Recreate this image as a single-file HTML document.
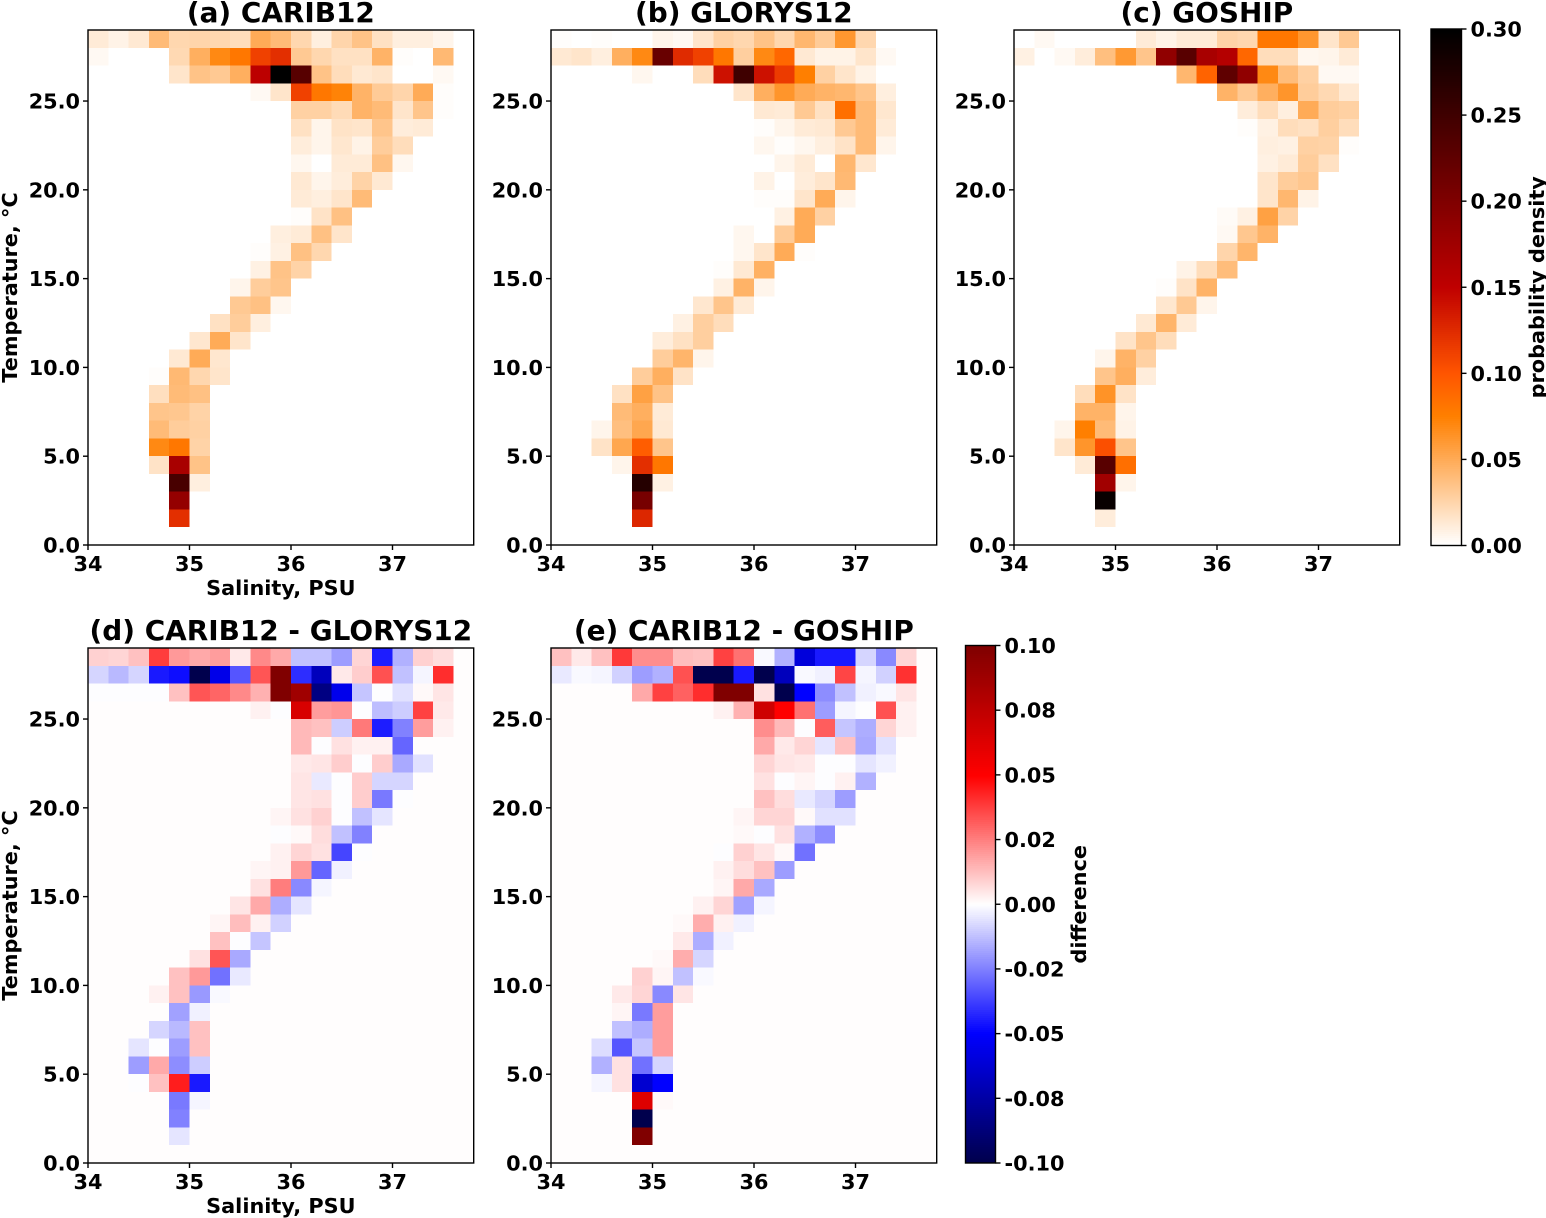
<!DOCTYPE html>
<html lang="en">
<head>
<meta charset="utf-8">
<title>Temperature-salinity probability density</title>
<style>
html,body{margin:0;padding:0;background:#fff;width:1546px;height:1218px;overflow:hidden}
svg{display:block}
text{font-family:"DejaVu Sans","Liberation Sans",sans-serif;font-weight:bold;fill:#000}
</style>
</head>
<body>
<svg id="figure" xmlns="http://www.w3.org/2000/svg" width="1546" height="1218" viewBox="0 0 1546 1218"></svg>
<script>
// Rows run from the top temperature bin (28-29 C) down to the bottom bin (0-1 C).
const temperatureBins = [28,27,26,25,24,23,22,21,20,19,18,17,16,15,14,13,12,11,10,9,8,7,6,5,4,3,2,1,0];
const salinityBins = [34,34.2,34.4,34.6,34.8,35,35.2,35.4,35.6,35.8,36,36.2,36.4,36.6,36.8,37,37.2,37.4,37.6];
const salinityTicks = [34,35,36,37];
const temperatureTicks = [0,5,10,15,20,25];
const temperatureTickLabels = ["0.0","5.0","10.0","15.0","20.0","25.0"];
const densityTicks = [0,0.05,0.1,0.15,0.2,0.25,0.3];
const densityTickLabels = ["0.00","0.05","0.10","0.15","0.20","0.25","0.30"];
const differenceTicks = [-0.1,-0.075,-0.05,-0.025,0,0.025,0.05,0.075,0.1];
const differenceTickLabels = ["-0.10","-0.08","-0.05","-0.02","0.00","0.02","0.05","0.08","0.10"];

const carib12 = [
[.012,.008,.014,.04,.024,.025,.024,.02,.05,.04,.024,.01,.025,.036,.018,.01,.01,.006],
[.004,0,.001,0,.023,.047,.07,.08,.112,.122,.032,.024,.018,.018,.045,.002,.001,.042],
[0,0,0,0,.016,.036,.032,.047,.153,.3,.231,.036,.02,.014,.016,0,.001,.004],
[0,0,0,0,0,0,0,0,.004,.016,.112,.08,.073,.045,.031,.025,.05,.002],
[0,0,0,0,0,0,0,0,0,0,.028,.027,.022,.045,.04,.016,.034,.002],
[0,0,0,0,0,0,0,0,0,0,.018,.006,.017,.016,.034,.011,.012],
[0,0,0,0,0,0,0,0,0,0,.011,.006,.015,.008,.03,.02],
[0,0,0,0,0,0,0,0,0,0,.005,.001,.012,.012,.037,.005],
[0,0,0,0,0,0,0,0,0,0,.014,.007,.011,.026,.014],
[0,0,0,0,0,0,0,0,0,.001,.012,.01,.016,.04],
[0,0,0,0,0,0,0,0,0,.001,.002,.017,.037,.001],
[0,0,0,0,0,0,0,0,0,.01,.012,.037,.016],
[0,0,0,0,0,0,0,0,.002,.009,.037,.024],
[0,0,0,0,0,0,0,0,.009,.036,.026],
[0,0,0,0,0,0,0,.006,.03,.034],
[0,0,0,0,0,0,.001,.032,.037,.005],
[0,0,0,0,0,0,.018,.03,.01],
[0,0,0,0,0,.015,.05,.016],
[0,0,0,0,.014,.05,.015],
[0,0,0,.002,.042,.024,.016],
[0,0,0,.019,.04,.037],
[0,0,0,.035,.033,.026],
[0,0,0,.04,.03,.028],
[0,0,0,.07,.08,.026],
[0,0,0,.017,.168,.036],
[0,0,0,0,.243,.01],
[0,0,0,0,.183],
[0,0,0,0,.122],
[]
];
const glorys12 = [
[.002,0,.002,.001,.001,.006,.004,.016,.027,.024,.036,.024,.043,.031,.062,.024],
[.014,.016,.01,.047,.07,.218,.125,.112,.08,.029,.07,.09,.013,.008,.008,.016,.004],
[0,0,0,0,.005,.001,.001,.021,.14,.25,.14,.115,.075,.028,.016,.008,.001],
[0,0,0,0,0,0,0,0,0,.016,.047,.063,.05,.045,.043,.034,.01],
[0,0,0,0,0,0,0,0,0,0,.013,.012,.032,.018,.085,.04,.015],
[0,0,0,0,0,0,0,0,0,0,.002,.006,.012,.014,.032,.04,.012],
[0,0,0,0,0,0,0,0,0,0,.005,.002,.005,.01,.017,.04,.006],
[0,0,0,0,0,0,0,0,0,0,0,.006,.012,.001,.043,.015],
[0,0,0,0,0,0,0,0,0,0,.008,.001,.011,.016,.042],
[0,0,0,0,0,0,0,0,0,0,.002,.002,.016,.05,.006],
[0,0,0,0,0,0,0,0,0,0,0,.009,.05,.027],
[0,0,0,0,0,0,0,0,0,.005,.001,.031,.05],
[0,0,0,0,0,0,0,0,0,.005,.016,.05,.002],
[0,0,0,0,0,0,0,0,.002,.013,.046,.001],
[0,0,0,0,0,0,0,0,.009,.045,.006],
[0,0,0,0,0,0,0,.015,.034,.012],
[0,0,0,0,0,0,.009,.029,.02],
[0,0,0,0,0,.011,.018,.029],
[0,0,0,0,.001,.03,.044,.006],
[0,0,0,0,.03,.047,.017],
[0,0,0,.018,.056,.036],
[0,0,0,.04,.048,.012],
[0,0,.006,.038,.052,.014],
[0,0,.017,.052,.096,.035],
[0,0,0,.007,.122,.08],
[0,0,0,0,.27,.009],
[0,0,0,0,.207],
[0,0,0,0,.127],
[]
];
const goship = [
[0,.004,.001,.001,0,.001,.012,.008,.012,.012,.026,.024,.08,.08,.062,.016,.032],
[.009,.001,.004,.011,.038,.06,.034,.187,.23,.168,.159,.09,.02,.021,.005,.006,.012],
[0,0,0,0,0,0,0,0,.043,.092,.225,.187,.07,.039,.028,.004,.004],
[0,0,0,0,0,0,0,0,0,0,.045,.032,.047,.063,.03,.023,.014],
[0,0,0,0,0,0,0,0,0,0,0,.011,.02,.01,.05,.03,.027],
[0,0,0,0,0,0,0,0,0,0,0,.002,.009,.021,.018,.029,.02],
[0,0,0,0,0,0,0,0,0,0,0,.001,.01,.009,.027,.026,.002],
[0,0,0,0,0,0,0,0,0,0,0,.001,.009,.012,.03,.018],
[0,0,0,0,0,0,0,0,0,0,0,0,.016,.03,.033],
[0,0,0,0,0,0,0,0,0,0,.001,.001,.016,.043,.008],
[0,0,0,0,0,0,0,0,0,0,.003,.009,.056,.026],
[0,0,0,0,0,0,0,0,0,0,.004,.033,.045],
[0,0,0,0,0,0,0,0,0,.001,.025,.044],
[0,0,0,0,0,0,0,0,.008,.02,.039],
[0,0,0,0,0,0,0,.002,.017,.045,.001],
[0,0,0,0,0,0,0,.015,.032,.006],
[0,0,0,0,0,0,.014,.044,.012],
[0,0,0,0,0,.017,.034,.02],
[0,0,0,0,.006,.045,.028,.001],
[0,0,0,0,.034,.047,.011],
[0,0,0,.02,.064,.017],
[0,0,0,.045,.045,.007],
[0,0,.006,.075,.04,.008],
[0,0,.016,.063,.104,.034],
[0,0,.001,.012,.23,.085],
[0,0,0,0,.174,.006],
[0,0,0,0,.293],
[0,0,0,0,.011],
[]
];
const caribMinusGlorys = [
[.009,.008,.012,.038,.02,.017,.019,.004,.023,.017,-.012,-.012,-.019,.008,-.044,-.015,.009,.007],
[-.008,-.014,-.008,-.045,-.047,-.1,-.056,-.033,.033,.1,-.041,-.068,.004,.01,.034,-.012,-.002,.041],
[-.0003,-.0003,-.0003,-.0003,.012,.033,.03,.023,.015,.1,.087,-.085,-.055,-.011,-.0003,-.006,.001,.005],
[0,0,0,0,0,0,0,0,.003,-.0003,.065,.019,.021,-.0003,-.013,-.01,.037,.004],
[0,0,0,0,0,0,0,0,0,.0006,.014,.012,-.01,.026,-.044,-.025,.019,.003],
[0,0,0,0,0,0,0,0,0,0,.014,-.0003,.006,.003,.003,-.03,.0005],
[0,0,0,0,0,0,0,0,0,0,.004,.005,.01,-.0005,.01,-.017,-.006],
[0,0,0,0,0,0,0,0,0,0,.005,-.004,-.0003,.01,-.008,-.008],
[0,0,0,0,0,0,0,0,0,0,.005,.006,-.0003,.01,-.026,-.0003],
[0,0,0,0,0,0,0,0,0,.002,.006,.009,-.0003,-.012,-.005],
[0,0,0,0,0,0,0,0,0,-.0003,.0015,.007,-.012,-.025],
[0,0,0,0,0,0,0,0,0,.003,.008,.006,-.036,-.0003],
[0,0,0,0,0,0,0,0,.002,.003,.02,-.03,-.003],
[0,0,0,0,0,0,0,0,.006,.025,-.023,-.002],
[0,0,0,0,0,0,0,.005,.017,-.016,-.005],
[0,0,0,0,0,0,.002,.013,.003,-.009],
[0,0,0,0,0,0,.012,-.0003,-.011],
[0,0,0,0,0,.006,.033,-.017],
[0,0,0,0,.012,.02,-.028,-.004],
[0,0,0,.003,.012,-.02,-.001],
[0,0,0,0,-.018,-.003],
[0,0,0,-.008,-.014,.012],
[0,0,-.005,-.0003,-.019,.012],
[0,0,-.019,.017,-.022,-.01],
[0,0,-.0005,.012,.044,-.045],
[0,0,0,0,-.026,-.002],
[0,0,0,0,-.025],
[0,0,0,0,-.005],
[]
];
const caribMinusGoship = [
[.012,.004,.012,.039,.022,.022,.013,.012,.037,.028,-.001,-.015,-.06,-.045,-.045,-.008,-.023,.008],
[-.004,-.001,-.002,-.009,-.019,-.015,.034,-.1,-.1,-.045,-.1,-.068,-.001,-.003,.036,-.002,-.009,.04],
[0,0,0,0,.017,.037,.031,.041,.1,.1,.006,-.1,-.05,-.022,-.012,-.003,-.001,.005],
[0,0,0,0,0,0,0,0,.003,.015,.069,.05,.028,-.019,-.002,-.0003,.034,.003],
[0,0,0,0,0,0,0,0,0,.0005,.022,.014,-.0003,.032,-.011,-.016,.008,.003],
[0,0,0,0,0,0,0,0,0,0,.017,.004,.008,-.005,.012,-.017,-.006],
[0,0,0,0,0,0,0,0,0,0,.008,.005,.004,-.0003,-.0003,-.005,-.003],
[0,0,0,0,0,0,0,0,0,0,.006,-.0005,.002,-.0003,.003,-.015],
[0,0,0,0,0,0,0,0,0,0,.012,.007,-.004,-.008,-.019],
[0,0,0,0,0,0,0,0,0,.002,.008,.008,.0015,-.006,-.006],
[0,0,0,0,0,0,0,0,0,.001,-.0003,.006,-.015,-.022],
[0,0,0,0,0,0,0,0,-.0003,.009,.005,.0015,-.028],
[0,0,0,0,0,0,0,0,.003,.007,.012,-.019],
[0,0,0,0,0,0,0,0,.002,.017,-.017],
[0,0,0,0,0,0,0,.003,.008,-.018,-.002],
[0,0,0,0,0,0,.001,.016,.003,-.003],
[0,0,0,0,0,0,.004,-.016,-.003],
[0,0,0,0,0,.001,.016,-.008],
[0,0,0,0,.009,.002,-.012,-.001],
[0,0,0,.004,.008,-.023,.005],
[0,0,0,.002,-.026,.019],
[0,0,0,-.012,-.016,.019],
[0,0,-.007,-.033,-.011,.019],
[0,0,-.015,.006,-.028,-.008],
[0,0,-.002,.006,-.063,-.05],
[0,0,0,0,.063,.001],
[0,0,0,0,-.1],
[0,0,0,0,.1],
[]
];

const NS = "http://www.w3.org/2000/svg";
const figure = document.getElementById("figure");

function svgEl(parent, tag, attrs, content) {
  const el = document.createElementNS(NS, tag);
  for (const k in attrs) el.setAttribute(k, attrs[k]);
  if (content !== undefined) el.textContent = content;
  parent.appendChild(el);
  return el;
}
function clip01(v) { return Math.max(0, Math.min(1, v)); }
function hex(r, g, b) {
  return "rgb(" + Math.round(r * 255) + "," + Math.round(g * 255) + "," + Math.round(b * 255) + ")";
}
function heatColor(v) {
  let i = Math.floor(clip01(v / 0.3) * 256);
  if (i > 255) i = 255;
  const x = 1 - i / 255;
  return hex(clip01(1.5 * x), clip01(2 * x - 1), clip01(4 * x - 3));
}
function seismicColor(v) {
  let i = Math.floor(clip01((v + 0.1) / 0.2) * 256);
  if (i > 255) i = 255;
  const x = i / 255;
  let r, g, b;
  if (x < 0.25) { r = 0; g = 0; b = 0.3 + 0.7 * x / 0.25; }
  else if (x < 0.5) { const f = (x - 0.25) / 0.25; r = f; g = f; b = 1; }
  else if (x < 0.75) { const f = (x - 0.5) / 0.25; r = 1; g = 1 - f; b = 1 - f; }
  else { const f = (x - 0.75) / 0.25; r = 1 - 0.5 * f; g = 0; b = 0; }
  return hex(r, g, b);
}

const AXIS_W = 385.7, AXIS_H = 515;
const SAL_MIN = 34, SAL_MAX = 37.8, TEMP_MIN = 0, TEMP_MAX = 29;
const TICK_FONT = 20.8, TITLE_FONT = 27.9, LABEL_FONT = 20.8;

function drawPanel(cfg) {
  const g = svgEl(figure, "g", {});
  
  
  const xs = s => cfg.left + (s - SAL_MIN) / (SAL_MAX - SAL_MIN) * AXIS_W;
  const ys = t => cfg.top + AXIS_H - (t - TEMP_MIN) / (TEMP_MAX - TEMP_MIN) * AXIS_H;
  const cells = svgEl(g, "g", {"shape-rendering": "crispEdges"});
  
  
  temperatureBins.forEach((t, r) => {
    salinityBins.forEach((s, c) => {
      const row = cfg.values[r] || [];
      const v = row[c] === undefined ? 0 : row[c];
      const x0 = xs(s), x1 = xs(s + 0.2), y0 = ys(t + 1), y1 = ys(t);
      const cell = svgEl(cells, "rect", {
        x: x0.toFixed(2), y: y0.toFixed(2),
        width: (x1 - x0).toFixed(2), height: (y1 - y0).toFixed(2),
        fill: cfg.color(v)
      });
      
      
    });
  });
  const frame = svgEl(g, "rect", {x: cfg.left, y: cfg.top, width: AXIS_W, height: AXIS_H, fill: "none", stroke: "#000", "stroke-width": 1.4});
  
  
  salinityTicks.forEach(s => {
    const x = xs(s);
    const tick = svgEl(g, "line", {x1: x, x2: x, y1: cfg.top + AXIS_H, y2: cfg.top + AXIS_H + 5, stroke: "#000", "stroke-width": 1.4});
    
    
    const lab = svgEl(g, "text", {x: x, y: cfg.top + AXIS_H + 26, "font-size": TICK_FONT, "text-anchor": "middle"}, String(s));
    
    
  });
  temperatureTicks.forEach((t, i) => {
    const y = ys(t);
    const tick = svgEl(g, "line", {x1: cfg.left - 5, x2: cfg.left, y1: y, y2: y, stroke: "#000", "stroke-width": 1.4});
    
    
    const lab = svgEl(g, "text", {x: cfg.left - 8, y: y + 7.5, "font-size": TICK_FONT, "text-anchor": "end"}, temperatureTickLabels[i]);
    
    
  });
  const title = svgEl(g, "text", {x: cfg.left + AXIS_W / 2, y: cfg.top - 8, "font-size": TITLE_FONT, "text-anchor": "middle"}, cfg.title);
  
  
  if (cfg.xLabel) {
    const xl = svgEl(g, "text", {x: cfg.left + AXIS_W / 2, y: cfg.top + AXIS_H + 50, "font-size": LABEL_FONT, "text-anchor": "middle"}, "Salinity, PSU");
    
    
  }
  if (cfg.yLabel) {
    const cy = cfg.top + AXIS_H / 2;
    const yl = svgEl(g, "text", {x: 17, y: cy, "font-size": LABEL_FONT, "text-anchor": "middle", transform: "rotate(-90 17 " + cy + ")"}, "Temperature, °C");
    
    
  }
}

function drawColorbar(cfg) {
  const g = svgEl(figure, "g", {});
  
  
  const span = cfg.max - cfg.min;
  const ys = v => cfg.bottom - (v - cfg.min) / span * (cfg.bottom - cfg.top);
  const ramp = svgEl(g, "g", {"shape-rendering": "crispEdges"});
  
  
  for (let i = 0; i < 256; i++) {
    const v0 = cfg.min + span * i / 256, v1 = cfg.min + span * (i + 1) / 256;
    svgEl(ramp, "rect", {x: cfg.left, y: ys(v1).toFixed(2), width: cfg.width, height: (ys(v0) - ys(v1) + 0.4).toFixed(2), fill: cfg.color((v0 + v1) / 2)});
  }
  const frame = svgEl(g, "rect", {x: cfg.left, y: cfg.top, width: cfg.width, height: cfg.bottom - cfg.top, fill: "none", stroke: "#000", "stroke-width": 1.4});
  
  
  cfg.ticks.forEach((v, i) => {
    const y = ys(v), x = cfg.left + cfg.width;
    const tick = svgEl(g, "line", {x1: x, x2: x + 5, y1: y, y2: y, stroke: "#000", "stroke-width": 1.4});
    
    
    const lab = svgEl(g, "text", {x: x + 9, y: y + 7.5, "font-size": TICK_FONT}, cfg.labels[i]);
    
    
  });
  const cy = (cfg.top + cfg.bottom) / 2;
  const title = svgEl(g, "text", {x: cfg.labelX, y: cy, "font-size": LABEL_FONT, "text-anchor": "middle", transform: "rotate(-90 " + cfg.labelX + " " + cy + ")"}, cfg.label);
  
  
}

drawPanel({name: "panel-carib12", title: "(a) CARIB12", left: 88, top: 30, values: carib12, color: heatColor, xLabel: true, yLabel: true});
drawPanel({name: "panel-glorys12", title: "(b) GLORYS12", left: 551, top: 30, values: glorys12, color: heatColor});
drawPanel({name: "panel-goship", title: "(c) GOSHIP", left: 1014, top: 30, values: goship, color: heatColor});
drawPanel({name: "panel-carib12-minus-glorys12", title: "(d) CARIB12 - GLORYS12", left: 88, top: 648, values: caribMinusGlorys, color: seismicColor, xLabel: true, yLabel: true});
drawPanel({name: "panel-carib12-minus-goship", title: "(e) CARIB12 - GOSHIP", left: 551, top: 648, values: caribMinusGoship, color: seismicColor});
drawColorbar({name: "density-colorbar", left: 1431, width: 30.5, top: 29, bottom: 545.5, min: 0, max: 0.3, color: heatColor, ticks: densityTicks, labels: densityTickLabels, label: "probability density", labelX: 1544});
drawColorbar({name: "difference-colorbar", left: 965.5, width: 30, top: 645.5, bottom: 1163, min: -0.1, max: 0.1, color: seismicColor, ticks: differenceTicks, labels: differenceTickLabels, label: "difference", labelX: 1086});
</script>
</body>
</html>
